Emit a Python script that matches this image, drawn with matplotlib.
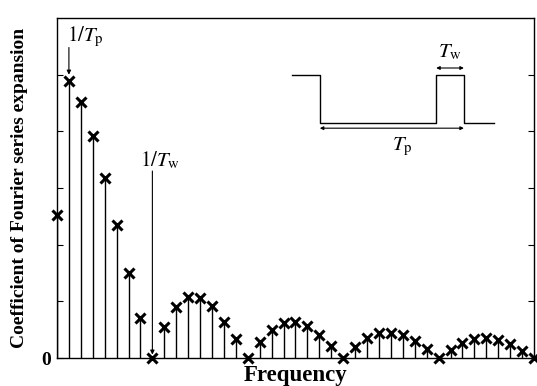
import matplotlib.pyplot as plt

# harmonic index and coefficient magnitudes
harmonic = list(range(41))
coef = [2.52, 4.88, 4.51, 3.92, 3.18, 2.35, 1.50, 0.70, 0.00,
        0.54, 0.90, 1.07, 1.06, 0.91, 0.64, 0.33, 0.00,
        0.29, 0.50, 0.61, 0.64, 0.56, 0.41, 0.22, 0.00,
        0.19, 0.35, 0.44, 0.45, 0.40, 0.30, 0.16, 0.00,
        0.15, 0.26, 0.34, 0.35, 0.32, 0.24, 0.13, 0.00]

# pulse train sketch (axes fraction)
pulse_x = [0.493, 0.551, 0.551, 0.795, 0.795, 0.853, 0.853, 0.916]
pulse_y = [0.832, 0.832, 0.691, 0.691, 0.832, 0.832, 0.691, 0.691]

plt.rcParams['font.family'] = 'Liberation Serif'
plt.rcParams['mathtext.fontset'] = 'stix'

fig = plt.figure(figsize=(5.37, 3.86), dpi=100)
ax = fig.add_axes([0.1061, 0.0725, 0.8883, 0.8808])

ax.vlines(harmonic, 0, coef, color='black', lw=1.0)
ax.plot(harmonic, coef, 'x', color='black', ms=7, mew=2.2, clip_on=False, zorder=5)

ax.set_xlim(0, 40)
ax.set_ylim(0, 6)
ax.set_xticks([])
ax.set_yticks([0, 1, 2, 3, 4, 5])
ax.set_yticklabels(['0', '', '', '', '', ''], fontweight='bold', fontsize=14)
ax.tick_params(axis='y', direction='in', right=True, length=4, pad=4)
for s in ax.spines.values():
    s.set_linewidth(1.0)

ax.set_xlabel('Frequency', fontweight='bold', fontsize=16.5, labelpad=5)
ax.set_ylabel('Coefficient of Fourier series expansion', fontweight='bold', fontsize=14, labelpad=10)

arrow = dict(arrowstyle='-|>', color='black', lw=0.8, mutation_scale=6, shrinkA=0, shrinkB=0)

# 1/Tp marker
ax.annotate('', xy=(harmonic[1], coef[1] + 0.12), xytext=(harmonic[1], 5.48), arrowprops=arrow)
ax.text(harmonic[1] - 0.2, 5.45, r'$1/T_{\mathrm{p}}$', fontsize=15, ha='left', va='bottom')

# 1/Tw marker
ax.annotate('', xy=(harmonic[8], 0.06), xytext=(harmonic[8], 3.3), arrowprops=arrow)
ax.text(harmonic[8] - 1.0, 3.3, r'$1/T_{\mathrm{w}}$', fontsize=15, ha='left', va='bottom')

# pulse train sketch
ax.plot(pulse_x, pulse_y, color='black', lw=1.0, transform=ax.transAxes)
ax.annotate('', xy=(pulse_x[4], 0.853), xytext=(pulse_x[6], 0.853), xycoords='axes fraction',
            arrowprops=dict(arrowstyle='<|-|>', color='black', lw=0.8, mutation_scale=5, shrinkA=0, shrinkB=0))
ax.text((pulse_x[4] + pulse_x[6]) / 2, 0.87, r'$T_{\mathrm{w}}$', transform=ax.transAxes,
        fontsize=15, ha='center', va='bottom')
ax.annotate('', xy=(pulse_x[2], 0.676), xytext=(pulse_x[6], 0.676), xycoords='axes fraction',
            arrowprops=dict(arrowstyle='<|-|>', color='black', lw=0.8, mutation_scale=5, shrinkA=0, shrinkB=0))
ax.text(0.723, 0.655, r'$T_{\mathrm{p}}$', transform=ax.transAxes,
        fontsize=15, ha='center', va='top')

fig.savefig('out.png', dpi=100)
